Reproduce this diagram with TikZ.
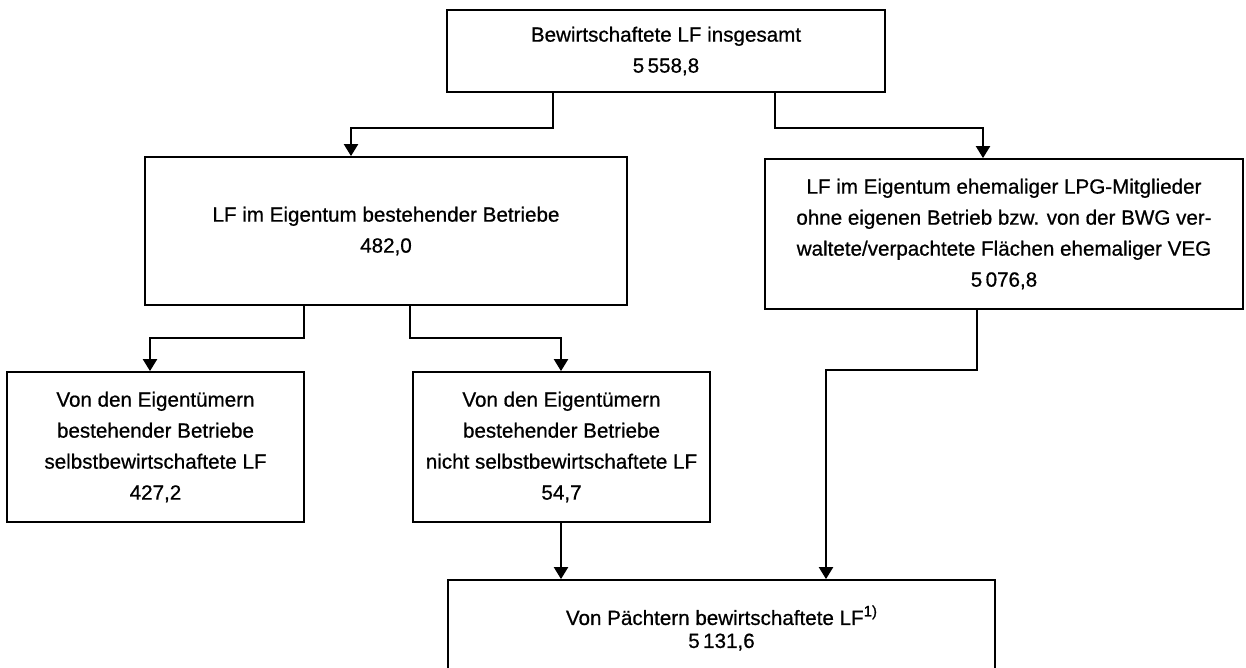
\documentclass[tikz,border=0pt]{standalone}
\usepackage{fontspec}
\setmainfont{Liberation Sans}[FakeBold=0.7]
\usetikzlibrary{arrows.meta}
\begin{document}
\begin{tikzpicture}[x=1pt,y=-1pt,
  box/.style={draw, line width=1.8pt, rectangle, inner sep=0pt, align=center,
    font=\fontsize{20.6}{31}\selectfont},
  conn/.style={line width=2.2pt, -{Triangle[width=14pt,length=12pt]}},
  txt/.style={inner sep=0pt, align=center, font=\fontsize{20.6}{23}\selectfont}]
\useasboundingbox (0,0) rectangle (1246,668);
\clip (0,0) rectangle (1246,668);
\fill[white] (0,0) rectangle (1246,668);

\node[box, minimum width=438pt, minimum height=82pt] (top) at (666,51)
  {Bewirtschaftete LF insgesamt\\5\,558,8};
\node[box, minimum width=482pt, minimum height=148pt] (ml) at (386,231)
  {LF im Eigentum bestehender Betriebe\\482,0};
\node[box, minimum width=478pt, minimum height=150pt] (mr) at (1004,234)
  {LF im Eigentum ehemaliger LPG-Mitglieder\\ohne eigenen Betrieb bzw. von der BWG ver-\\waltete/verpachtete Flächen ehemaliger VEG\\5\,076,8};
\node[box, minimum width=297pt, minimum height=150pt] (bl) at (155.5,447)
  {Von den Eigentümern\\bestehender Betriebe\\selbstbewirtschaftete LF\\427,2};
\node[box, minimum width=297pt, minimum height=150pt] (bm) at (561.5,447)
  {Von den Eigentümern\\bestehender Betriebe\\nicht selbstbewirtschaftete LF\\54,7};
\node[box, minimum width=547pt, minimum height=120pt] (bot) at (721.5,640) {};
\node[txt] (bottxt) at (721.5,628)
  {Von Pächtern bewirtschaftete LF\raisebox{0.42em}{\fontsize{15}{15}\selectfont 1)}\\5\,131,6};

\coordinate (a1) at (553,128);
\coordinate (a2) at (351,128);
\coordinate (b1) at (775,128);
\coordinate (b2) at (983,128);
\coordinate (c1) at (304,338);
\coordinate (c2) at (150,338);
\coordinate (d1) at (410,338);
\coordinate (d2) at (561,338);
\coordinate (e1) at (977,370);
\coordinate (e2) at (826,370);
\coordinate (f1) at (561,530);

\draw[conn] (top.south -| a1) -- (a1) -- (a2) -- (a2 |- ml.north);
\draw[conn] (top.south -| b1) -- (b1) -- (b2) -- (b2 |- mr.north);
\draw[conn] (ml.south -| c1) -- (c1) -- (c2) -- (c2 |- bl.north);
\draw[conn] (ml.south -| d1) -- (d1) -- (d2) -- (d2 |- bm.north);
\draw[conn] (mr.south -| e1) -- (e1) -- (e2) -- (e2 |- bot.north);
\draw[conn] (bm.south -| f1) -- (f1 |- bot.north);
\end{tikzpicture}
\end{document}
